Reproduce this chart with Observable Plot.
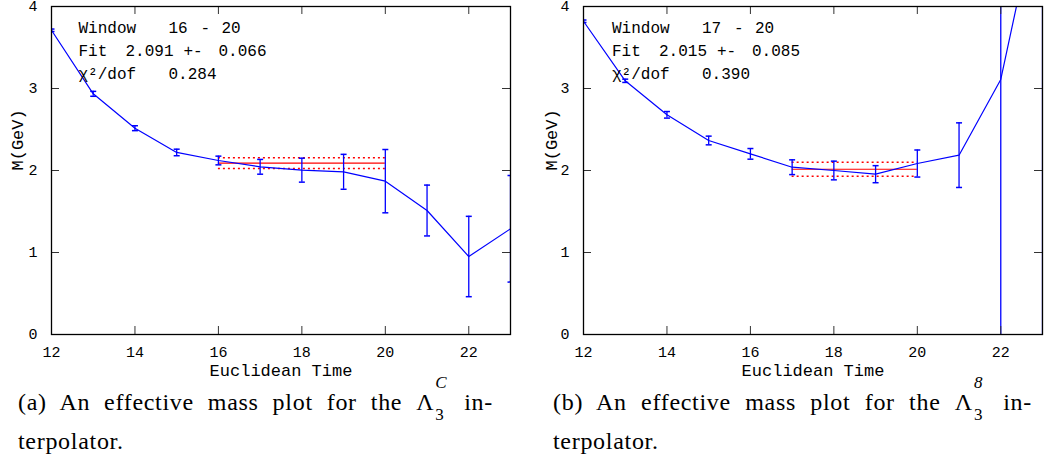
<!DOCTYPE html>
<html>
<head>
<meta charset="utf-8">
<script src="https://cdn.jsdelivr.net/npm/d3@7"></script>
<script src="https://cdn.jsdelivr.net/npm/@observablehq/plot@0.6"></script>
<style>
  html, body { margin: 0; padding: 0; background: #fff; }
  #wrap { display: flex; width: 1044px; height: 462px; overflow: hidden; }
  .panel svg { display: block; }
  .cap { font-family: "Liberation Serif", "DejaVu Serif", serif; font-size: 24px; line-height: 39px; color: #000; padding-top: 3px; letter-spacing: 0.7px; }
  .l1 { text-align: justify; text-align-last: justify; white-space: normal; }
  .ss { display: inline-block; position: relative; width: 16px; height: 24px; vertical-align: baseline; }
  .ss span { position: absolute; left: 1px; font-size: 17px; line-height: 17px; letter-spacing: 0; }
  .ss .sup { top: -12px; font-style: italic; }
  .ss .sub { top: 20px; }
</style>
</head>
<body>
<div id="wrap"></div>
<script>
// ---- data ----
const xTicks = [12, 14, 16, 18, 20, 22];
const yTicks = [0, 1, 2, 3, 4];

// (a) Lambda_3^C interpolator
const timesA = [12, 13, 14, 15, 16, 17, 18, 19, 20, 21, 22, 23];
const massA  = [3.71, 2.935, 2.516, 2.22, 2.122, 2.045, 2.004, 1.984, 1.87, 1.512, 0.951, 1.289];
const errA   = [0.015, 0.03, 0.03, 0.04, 0.053, 0.09, 0.146, 0.213, 0.386, 0.31, 0.49, 0.65];
const windowA = [16, 20];
const fitA = 2.091, fitErrA = 0.066, chi2A = 0.284;

// (b) Lambda_3^8 interpolator
const timesB = [12, 13, 14, 15, 16, 17, 18, 19, 20, 21, 22, 23];
const massB  = [3.82, 3.094, 2.679, 2.366, 2.203, 2.04, 2.0, 1.955, 2.085, 2.187, 3.11, 5.48];
const errB   = [0.015, 0.02, 0.04, 0.053, 0.065, 0.09, 0.114, 0.104, 0.165, 0.394, 4.5, 6.0];
const windowB = [17, 20];
const fitB = 2.015, fitErrB = 0.085, chi2B = 0.390;

const xLabel = "Euclidean Time";
const yLabel = "M(GeV)";
const captionA = { tag: "(a)", pre: "An effective mass plot for the", sup: "C", sub: "3", post: "in-", line2: "terpolator." };
const captionB = { tag: "(b)", pre: "An effective mass plot for the", sup: "8", sub: "3", post: "in-", line2: "terpolator." };

// ---- drawing ----
function panel(o) {
  const H = 380, mt = 6, mb = 46;
  const fw = o.width - o.marginLeft - o.marginRight;
  const fh = H - mt - mb;
  const data = o.times.map((t, i) => ({ t, m: o.mass[i], e: o.err[i] }));
  const blue = "#0000ff", red = "#ff0000", tickC = "#333333";
  const cap = { draw(ctx) { ctx.moveTo(-3, 0); ctx.lineTo(3, 0); } };
  const ax = o.annoX;
  const anno = (text, dx, dy) => Plot.text([text], {
    text: d => d, frameAnchor: "top-left", lineAnchor: "middle", dx: ax + dx, dy, textAnchor: "start",
    fontSize: 16, fill: "black"
  });
  return Plot.plot({
    width: o.width, height: H,
    marginLeft: o.marginLeft, marginRight: o.marginRight, marginTop: mt, marginBottom: mb,
    style: { fontFamily: "'Liberation Mono', 'DejaVu Sans Mono', monospace", fontSize: "15px", background: "white", color: "black", overflow: "visible" },
    x: { domain: [12, 23], ticks: xTicks, tickFormat: d => String(d), tickSize: 0, tickPadding: 12, label: null },
    y: { domain: [0, 4], ticks: yTicks, tickFormat: d => String(d), tickSize: 0, tickPadding: 14, label: null },
    marks: [
      // fit band
      Plot.ruleY([o.fit - o.fitErr, o.fit + o.fitErr], { y: d => d, x1: () => o.win[0], x2: () => o.win[1], stroke: red, strokeWidth: 1.5, strokeDasharray: "2,3" }),
      Plot.ruleY([o.fit], { y: d => d, x1: () => o.win[0], x2: () => o.win[1], stroke: red, strokeWidth: 1.2 }),
      // data
      Plot.line(data, { x: "t", y: "m", stroke: blue, strokeWidth: 1.2, clip: true }),
      Plot.ruleX(data, { x: "t", y1: d => d.m - d.e, y2: d => d.m + d.e, stroke: blue, strokeWidth: 1.3, clip: true }),
      Plot.dot(data, { x: "t", y: d => d.m - d.e, symbol: cap, r: 3, fill: "none", stroke: blue, strokeWidth: 1.5, clip: true }),
      Plot.dot(data, { x: "t", y: d => d.m + d.e, symbol: cap, r: 3, fill: "none", stroke: blue, strokeWidth: 1.5, clip: true }),
      // inward ticks on all four sides
      Plot.tickX(xTicks, { x: d => d, insetTop: fh - 8, stroke: tickC }),
      Plot.tickX(xTicks, { x: d => d, insetBottom: fh - 8, stroke: tickC }),
      Plot.tickY(yTicks, { y: d => d, insetRight: fw - 8, stroke: tickC }),
      Plot.tickY(yTicks, { y: d => d, insetLeft: fw - 8, stroke: tickC }),
      Plot.frame({ stroke: "black", strokeWidth: 1.3 }),
      // axis titles
      Plot.text([xLabel], { text: d => d, frameAnchor: "bottom", lineAnchor: "middle", dy: 36, fontSize: 17, fill: "black" }),
      Plot.text([yLabel], { text: d => d, frameAnchor: "left", lineAnchor: "middle", dx: o.labelDx, rotate: -90, fontSize: 17, fill: "black" }),
      // fit annotation
      anno("Window", 0, 21.5),
      anno(String(o.win[0]), 90, 21.5),
      anno("-", 122, 21.5),
      anno(String(o.win[1]), 143, 21.5),
      anno("Fit", 0, 44.5),
      anno(o.fit.toFixed(3), 47, 44.5),
      anno("+-", 105, 44.5),
      anno(o.fitErr.toFixed(3), 140, 44.5),
      anno("χ²/dof", 0, 67.5),
      anno(o.chi2.toFixed(3), 90, 67.5)
    ]
  });
}

function caption(c, left, width) {
  const d = document.createElement("div");
  d.className = "cap";
  d.style.marginLeft = left + "px";
  d.innerHTML =
    `<div class="l1" style="width:${width}px">${c.tag} ${c.pre} Λ<span class="ss"><span class="sup">${c.sup}</span><span class="sub">${c.sub}</span></span> ${c.post}</div>` +
    `<div>${c.line2}</div>`;
  return d;
}

const wrap = document.getElementById("wrap");
const pa = document.createElement("div"); pa.className = "panel"; pa.style.width = "520px";
const pb = document.createElement("div"); pb.className = "panel"; pb.style.width = "524px";
wrap.append(pa, pb);

pa.append(panel({ width: 520, marginLeft: 51, marginRight: 10, times: timesA, mass: massA, err: errA,
  win: windowA, fit: fitA, fitErr: fitErrA, chi2: chi2A, annoX: 27, labelDx: -34 }));
pa.append(caption(captionA, 18, 475));

pb.append(panel({ width: 524, marginLeft: 63, marginRight: 2, times: timesB, mass: massB, err: errB,
  win: windowB, fit: fitB, fitErr: fitErrB, chi2: chi2B, annoX: 28.5, labelDx: -31.5 }));
pb.append(caption(captionB, 33, 479));
</script>
</body>
</html>
